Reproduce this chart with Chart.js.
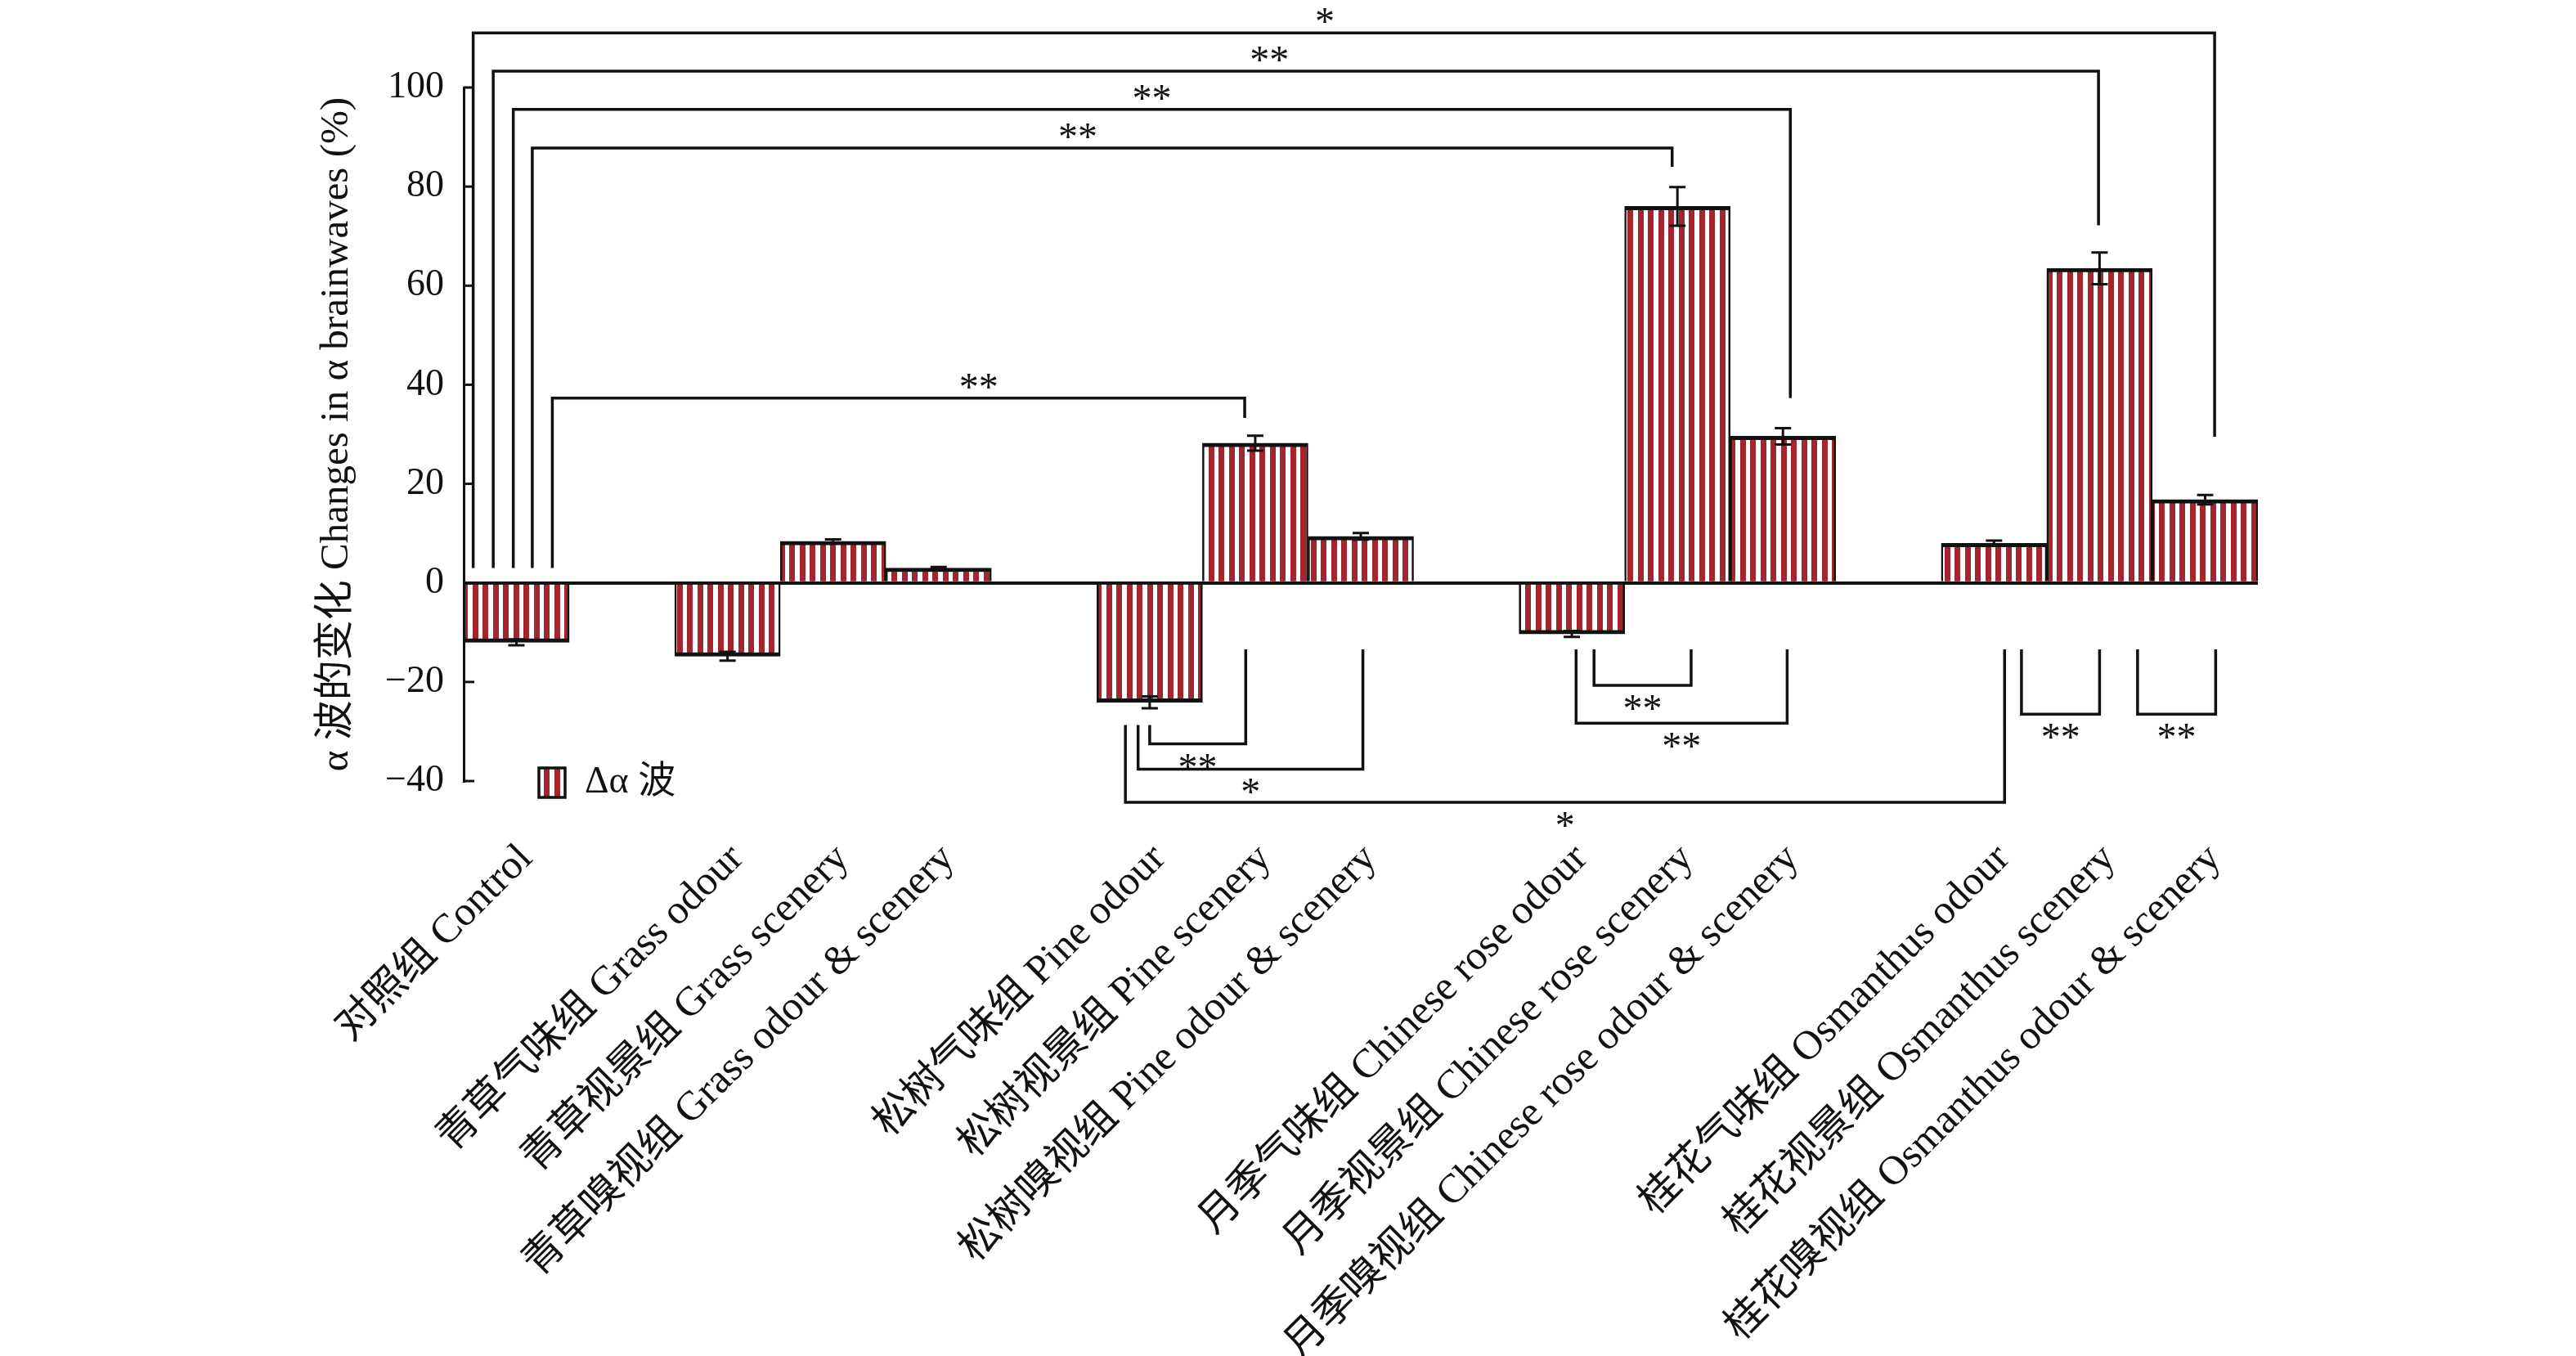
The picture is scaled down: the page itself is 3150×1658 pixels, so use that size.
<!DOCTYPE html>
<html>
<head>
<meta charset="utf-8">
<script src="https://cdn.jsdelivr.net/npm/chart.js@4.4.1/dist/chart.umd.min.js"></script>
<style>
html,body{margin:0;padding:0;background:#fff;}
#wrap{width:3150px;height:1658px;position:relative;}
</style>
</head>
<body>
<div id="wrap"><canvas id="c" width="3150" height="1658"></canvas></div>
<script>
// ---------------- data ----------------
const categories = [
  '对照组 Control',
  '青草气味组 Grass odour', '青草视景组 Grass scenery', '青草嗅视组 Grass odour & scenery',
  '松树气味组 Pine odour', '松树视景组 Pine scenery', '松树嗅视组 Pine odour & scenery',
  '月季气味组 Chinese rose odour', '月季视景组 Chinese rose scenery', '月季嗅视组 Chinese rose odour & scenery',
  '桂花气味组 Osmanthus odour', '桂花视景组 Osmanthus scenery', '桂花嗅视组 Osmanthus odour & scenery'
];
const groupSizes = [1, 3, 3, 3, 3];
const alphaChange = [-12.0, -14.8, 8.4, 3.0, -24.1, 28.2, 9.4, -10.3, 76.0, 29.6, 8.0, 63.5, 16.8];
const alphaError  = [0.6, 0.9, 0.4, 0.2, 1.2, 1.5, 0.65, 0.6, 3.9, 1.65, 0.55, 3.2, 0.95];
const yTicks = [-40, -20, 0, 20, 40, 60, 80, 100];
const seriesLabel = 'Δα 波';
const yTitle = 'α 波的变化 Changes in α brainwaves (%)';

// significance comparisons (category indices, mark, bracket level and end levels in % units)
const sigFrom    = [0, 0, 0, 0, 0, 4, 4, 4, 7, 7, 10, 11];
const sigTo      = [12, 11, 9, 8, 5, 5, 6, 10, 8, 9, 11, 12];
const sigMark    = ['*', '**', '**', '**', '**', '**', '*', '*', '**', '**', '**', '**'];
const sigLevel   = [111, 103.3, 95.6, 87.8, 37.3, -32.5, -37.6, -44.3, -20.7, -28.3, -26.5, -26.5];
const sigFromEnd = [3, 3, 3, 3, 3, -28.7, -28.7, -28.7, -13.4, -13.4, -13.4, -13.4];
const sigToEnd   = [29.5, 72.2, 37.3, 84, 33.3, -13.4, -13.4, -13.4, -13.4, -13.4, -13.4, -13.4];

// ---------------- build slots (gaps between groups) ----------------
const slotLabels = [];
const slotValues = [];
const slotErrors = [];
const catSlot = [];
{
  let c = 0;
  groupSizes.forEach((n, g) => {
    if (g > 0) { slotLabels.push(''); slotValues.push(null); slotErrors.push(null); }
    for (let k = 0; k < n; k++) {
      catSlot.push(slotLabels.length);
      slotLabels.push(categories[c]);
      slotValues.push(alphaChange[c]);
      slotErrors.push(alphaError[c]);
      c++;
    }
  });
}

// ---------------- styles ----------------
const FONT = "'Liberation Serif', 'Noto Sans CJK SC', serif";
const RED = '#A2262D';
const canvas = document.getElementById('c');
function stripePattern() {
  const p = document.createElement('canvas');
  p.width = 25; p.height = 4;
  const g = p.getContext('2d');
  g.fillStyle = '#fff'; g.fillRect(0, 0, 25, 4);
  g.fillStyle = RED; g.fillRect(3, 0, 7, 4); g.fillRect(15, 0, 7, 4);
  return canvas.getContext('2d').createPattern(p, 'repeat');
}
const pattern = stripePattern();

// bracket horizontal offsets within a slot (fraction of slot width)
const fromOff = [-0.41, -0.22, -0.03, 0.15, 0.34, 0.0, -0.11, -0.23, 0.21, 0.04, 0.26, 0.36];
const toOff   = [0.09, -0.01, 0.07, -0.05, -0.10, -0.09, 0.02, 0.10, 0.13, 0.04, 0.0, 0.10];
const markShift = [-0.18, -0.25, 0, -0.23, 0.76, 0, 0, 0, 0, 0, 0, 0];

const overlay = {
  id: 'overlay',
  afterDatasetsDraw(chart) {
    const ctx = chart.ctx;
    const ys = chart.scales.y;
    const meta = chart.getDatasetMeta(0);
    ctx.save();
    // error bars
    ctx.strokeStyle = '#111';
    ctx.lineWidth = 3;
    meta.data.forEach((bar, i) => {
      const v = slotValues[i], e = slotErrors[i];
      if (v === null) return;
      const x = bar.x;
      const y1 = ys.getPixelForValue(v - e), y2 = ys.getPixelForValue(v + e);
      const cw = 10;
      ctx.beginPath();
      ctx.moveTo(x, y1); ctx.lineTo(x, y2);
      ctx.moveTo(x - cw, y1); ctx.lineTo(x + cw, y1);
      ctx.moveTo(x - cw, y2); ctx.lineTo(x + cw, y2);
      ctx.stroke();
    });
    ctx.restore();
  },
  afterDraw(chart) {
    const ctx = chart.ctx;
    const xs = chart.scales.x, ys = chart.scales.y;
    const area = chart.chartArea;
    const slotW = xs.getPixelForValue(1) - xs.getPixelForValue(0);
    ctx.save();
    // inward y ticks
    ctx.strokeStyle = '#111';
    ctx.lineWidth = 3;
    yTicks.forEach(t => {
      const y = ys.getPixelForValue(t);
      ctx.beginPath(); ctx.moveTo(area.left, y); ctx.lineTo(area.left + 13, y); ctx.stroke();
    });
    // significance brackets
    ctx.lineWidth = 3.5;
    ctx.lineJoin = 'miter';
    ctx.fillStyle = '#111';
    ctx.font = '48px ' + FONT;
    ctx.textAlign = 'center';
    ctx.textBaseline = 'alphabetic';
    sigFrom.forEach((f, k) => {
      const xa = xs.getPixelForValue(catSlot[f]) + fromOff[k] * slotW;
      const xb = xs.getPixelForValue(catSlot[sigTo[k]]) + toOff[k] * slotW;
      const yl = ys.getPixelForValue(sigLevel[k]);
      ctx.beginPath();
      ctx.moveTo(xa, ys.getPixelForValue(sigFromEnd[k]));
      ctx.lineTo(xa, yl);
      ctx.lineTo(xb, yl);
      ctx.lineTo(xb, ys.getPixelForValue(sigToEnd[k]));
      ctx.stroke();
      const xm = (xa + xb) / 2 + markShift[k] * slotW;
      ctx.fillText(sigMark[k], xm, sigLevel[k] > 0 ? yl + 2 : yl + 44);
    });
    // legend (inside plot, lower left)
    const ly = ys.getPixelForValue(-40) + 2;
    const bx = area.left + 92;
    ctx.fillStyle = pattern;
    ctx.fillRect(bx, ly - 18, 32, 36);
    ctx.lineWidth = 3.5;
    ctx.strokeStyle = '#111';
    ctx.strokeRect(bx, ly - 18, 32, 36);
    ctx.fillStyle = '#111';
    ctx.font = '46px ' + FONT;
    ctx.textAlign = 'left';
    ctx.textBaseline = 'middle';
    ctx.fillText(seriesLabel, bx + 56, ly);
    ctx.restore();
  }
};

new Chart(canvas, {
  type: 'bar',
  data: {
    labels: slotLabels,
    datasets: [{
      label: seriesLabel,
      data: slotValues,
      backgroundColor: pattern,
      borderColor: '#111',
      borderSkipped: false,
      borderWidth: (c) => {
        const v = c.raw;
        if (v === null || v === undefined) return 0;
        return v >= 0 ? {top: 5, left: 2.5, right: 2.5, bottom: 0}
                      : {top: 0, left: 2.5, right: 2.5, bottom: 5};
      },
      barPercentage: 1,
      categoryPercentage: 1
    }]
  },
  options: {
    responsive: false,
    animation: false,
    devicePixelRatio: 1,
    layout: { padding: { top: 107, right: 389, left: 0, bottom: 0 } },
    plugins: { legend: { display: false }, tooltip: { enabled: false } },
    scales: {
      x: {
        grid: { display: false, drawTicks: false },
        border: { display: false },
        ticks: {
          autoSkip: false, maxRotation: 45, minRotation: 45,
          padding: 66, labelOffset: 12, color: '#111',
          font: { family: FONT, size: 50 }
        },
        afterFit: (s) => { s.height = 703; }
      },
      y: {
        min: -40, max: 100,
        afterBuildTicks: (s) => { s.ticks = yTicks.map(v => ({ value: v })); },
        grid: {
          drawTicks: false,
          color: (c) => (c.tick && c.tick.value === 0) ? '#111' : 'rgba(0,0,0,0)',
          lineWidth: 4
        },
        border: { display: true, color: '#111', width: 3 },
        ticks: {
          padding: 24, color: '#111',
          font: { family: FONT, size: 46 },
          callback: (v) => String(v).replace('-', '\u2212')
        },
        title: {
          display: true, text: yTitle, color: '#111',
          font: { family: FONT, size: 49 },
          padding: { top: 383, bottom: 0 }
        },
        afterFit: (s) => { s.width = 567; }
      }
    }
  },
  plugins: [overlay]
});
</script>
</body>
</html>
